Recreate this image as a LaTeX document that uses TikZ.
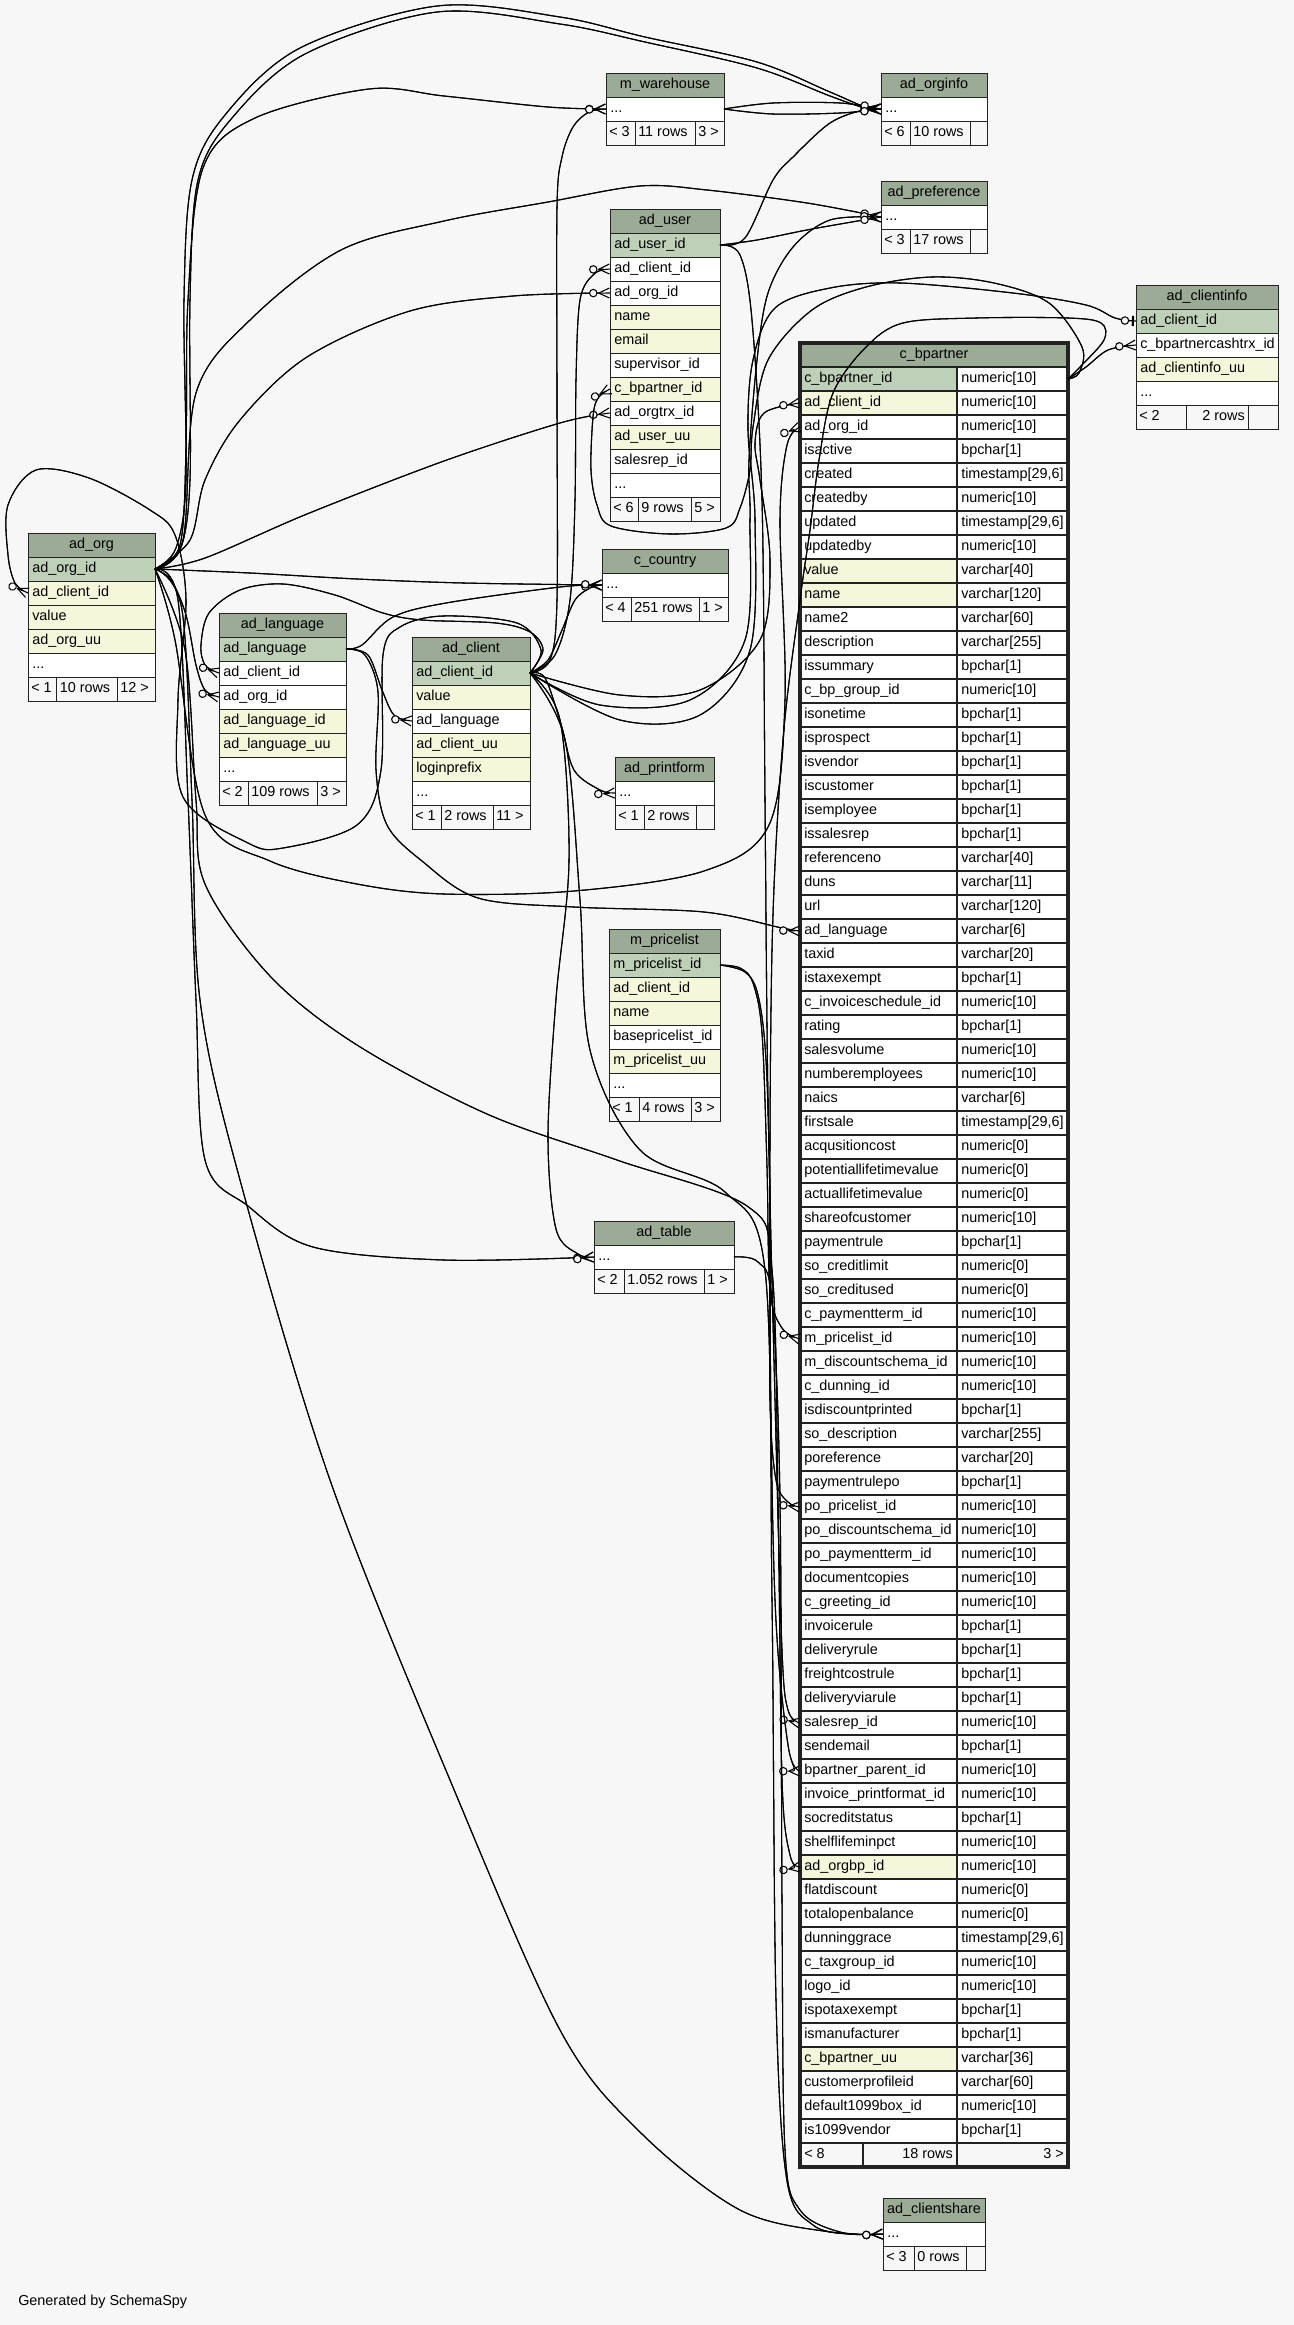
\documentclass[tikz,border=0pt]{standalone}
\usepackage{fontspec}
\setmainfont{Liberation Sans}
\usetikzlibrary{arrows.meta}
\definecolor{bgcol}{HTML}{F7F7F7}
\definecolor{hdrcol}{HTML}{9BAB96}
\definecolor{pkcol}{HTML}{BED1B8}
\definecolor{idxcol}{HTML}{F4F7DA}
\definecolor{linecol}{HTML}{222222}
\tikzset{
  txt/.style={inner sep=0pt, font=\fontsize{10.8}{12}\selectfont, text=black, text height=7.8pt, text depth=2.2pt},
  cellline/.style={draw=linecol, line width=0.75pt},
  bpcell/.style={draw=linecol, line width=1.2pt},
  rel/.style={draw=black, line width=0.8pt},
  crowfoot/.style={preaction={draw=black, line width=0.8pt, arrows=-},
    -{Circle[length=6.4pt, fill=bgcol, sep=0pt] Straight Barb[reversed, length=8pt, width=7.5pt]}},
  onezero/.style={preaction={draw=black, line width=0.8pt, arrows=-},
    -{Circle[length=6.4pt, fill=bgcol, sep=2pt] Bar[width=7.5pt, line width=1.6pt, sep=1.5pt]}}
}
\newcommand\Hd[5]{%
  \draw[cellline, fill=hdrcol] (#2,#4) rectangle (#3,#4+24);
  \node[txt] (#1) at ({(#2+#3)/2},#4+12) {#5};}
\newcommand\Cl[6]{%
  \draw[cellline, fill=#5] (#2,#4) rectangle (#3,#4+24);
  \node[txt, anchor=west] (#1) at (#2+4,#4+12) {#6};}
\newcommand\Ft[9]{%
  \draw[cellline, fill=bgcol] (#2,#6) rectangle (#3,#6+24) (#3,#6) rectangle (#4,#6+24) (#4,#6) rectangle (#5,#6+24);
  \node[txt, anchor=west] (#1a) at (#2+3,#6+12) {#7};
  \node[txt, anchor=west] (#1b) at (#3+3,#6+12) {#8};
  \node[txt, anchor=west] (#1c) at (#4+3,#6+12) {#9};}
\newcommand\Bp[4]{%
  \draw[bpcell, fill=#4] (800,343+24*#1) rectangle (957,367+24*#1);
  \draw[bpcell, fill=white] (957,343+24*#1) rectangle (1068,367+24*#1);
  \node[txt, anchor=west] (bpn#1) at (804,355+24*#1) {#2};
  \node[txt, anchor=west] (bpt#1) at (961,355+24*#1) {#3};}
\begin{document}
\begin{tikzpicture}[x=0.75pt,y=-0.75pt]
\useasboundingbox (0,0) rectangle (1294,2325);
\fill[bgcol] (0,0) rectangle (1294,2325);

% ---------- tables ----------
\Hd{wh}{606}{724}{73}{m\_warehouse}
\Cl{wh1}{606}{724}{97}{white}{...}
\Ft{whf}{606}{635}{695}{724}{121}{< 3}{11 rows}{3 >}
\Hd{oi}{881}{987}{73}{ad\_orginfo}
\Cl{oi1}{881}{987}{97}{white}{...}
\Ft{oif}{881}{910}{970}{987}{121}{< 6}{10 rows}{}
\Hd{pf}{881}{987}{181}{ad\_preference}
\Cl{pf1}{881}{987}{205}{white}{...}
\Ft{pff}{881}{910}{970}{987}{229}{< 3}{17 rows}{}
\Hd{us}{610}{720}{209}{ad\_user}
\Cl{us1}{610}{720}{233}{pkcol}{ad\_user\_id}
\Cl{us2}{610}{720}{257}{white}{ad\_client\_id}
\Cl{us3}{610}{720}{281}{white}{ad\_org\_id}
\Cl{us4}{610}{720}{305}{idxcol}{name}
\Cl{us5}{610}{720}{329}{idxcol}{email}
\Cl{us6}{610}{720}{353}{white}{supervisor\_id}
\Cl{us7}{610}{720}{377}{idxcol}{c\_bpartner\_id}
\Cl{us8}{610}{720}{401}{white}{ad\_orgtrx\_id}
\Cl{us9}{610}{720}{425}{idxcol}{ad\_user\_uu}
\Cl{us10}{610}{720}{449}{white}{salesrep\_id}
\Cl{us11}{610}{720}{473}{white}{...}
\Ft{usf}{610}{638}{691}{720}{497}{< 6}{9 rows}{5 >}
\Hd{ci}{1136}{1278}{285}{ad\_clientinfo}
\Cl{ci1}{1136}{1278}{309}{pkcol}{ad\_client\_id}
\Cl{ci2}{1136}{1278}{333}{white}{c\_bpartnercashtrx\_id}
\Cl{ci3}{1136}{1278}{357}{idxcol}{ad\_clientinfo\_uu}
\Cl{ci4}{1136}{1278}{381}{white}{...}
\draw[cellline, fill=bgcol] (1136,405) rectangle (1186,429) (1186,405) rectangle (1248,429) (1248,405) rectangle (1278,429);
\node[txt, anchor=west] (cifa) at (1139,417) {< 2};
\node[txt, anchor=east] (cifb) at (1245,417) {2 rows};
\Hd{og}{28}{155}{533}{ad\_org}
\Cl{og1}{28}{155}{557}{pkcol}{ad\_org\_id}
\Cl{og2}{28}{155}{581}{idxcol}{ad\_client\_id}
\Cl{og3}{28}{155}{605}{idxcol}{value}
\Cl{og4}{28}{155}{629}{idxcol}{ad\_org\_uu}
\Cl{og5}{28}{155}{653}{white}{...}
\Ft{ogf}{28}{56.5}{117}{155}{677}{< 1}{10 rows}{12 >}
\Hd{lg}{219}{346}{613}{ad\_language}
\Cl{lg1}{219}{346}{637}{pkcol}{ad\_language}
\Cl{lg2}{219}{346}{661}{white}{ad\_client\_id}
\Cl{lg3}{219}{346}{685}{white}{ad\_org\_id}
\Cl{lg4}{219}{346}{709}{idxcol}{ad\_language\_id}
\Cl{lg5}{219}{346}{733}{idxcol}{ad\_language\_uu}
\Cl{lg6}{219}{346}{757}{white}{...}
\Ft{lgf}{219}{248}{317}{346}{781}{< 2}{109 rows}{3 >}
\Hd{cl}{412}{530}{637}{ad\_client}
\Cl{cl1}{412}{530}{661}{pkcol}{ad\_client\_id}
\Cl{cl2}{412}{530}{685}{idxcol}{value}
\Cl{cl3}{412}{530}{709}{white}{ad\_language}
\Cl{cl4}{412}{530}{733}{idxcol}{ad\_client\_uu}
\Cl{cl5}{412}{530}{757}{idxcol}{loginprefix}
\Cl{cl6}{412}{530}{781}{white}{...}
\Ft{clf}{412}{441}{493}{530}{805}{< 1}{2 rows}{11 >}
\Hd{co}{602}{728}{549}{c\_country}
\Cl{co1}{602}{728}{573}{white}{...}
\Ft{cof}{602}{631}{699}{728}{597}{< 4}{251 rows}{1 >}
\Hd{pr}{615}{714}{757}{ad\_printform}
\Cl{pr1}{615}{714}{781}{white}{...}
\Ft{prf}{615}{644}{696}{714}{805}{< 1}{2 rows}{}
\Hd{pl}{609}{720}{929}{m\_pricelist}
\Cl{pl1}{609}{720}{953}{pkcol}{m\_pricelist\_id}
\Cl{pl2}{609}{720}{977}{idxcol}{ad\_client\_id}
\Cl{pl3}{609}{720}{1001}{idxcol}{name}
\Cl{pl4}{609}{720}{1025}{white}{basepricelist\_id}
\Cl{pl5}{609}{720}{1049}{idxcol}{m\_pricelist\_uu}
\Cl{pl6}{609}{720}{1073}{white}{...}
\Ft{plf}{609}{639}{691}{720}{1097}{< 1}{4 rows}{3 >}
\Hd{tb}{594}{734}{1221}{ad\_table}
\Cl{tb1}{594}{734}{1245}{white}{...}
\Ft{tbf}{594}{624}{704}{734}{1269}{< 2}{1.052 rows}{1 >}
\Hd{cs}{883}{985}{2198}{ad\_clientshare}
\Cl{cs1}{883}{985}{2222}{white}{...}
\Ft{csf}{883}{914}{966}{985}{2246}{< 3}{0 rows}{}

% c_bpartner
\draw[bpcell, fill=hdrcol] (800,343) rectangle (1068,367);
\node[txt] (bp) at (934,355) {c\_bpartner};
\Bp{1}{c\_bpartner\_id}{numeric[10]}{pkcol}
\Bp{2}{ad\_client\_id}{numeric[10]}{idxcol}
\Bp{3}{ad\_org\_id}{numeric[10]}{white}
\Bp{4}{isactive}{bpchar[1]}{white}
\Bp{5}{created}{timestamp[29,6]}{white}
\Bp{6}{createdby}{numeric[10]}{white}
\Bp{7}{updated}{timestamp[29,6]}{white}
\Bp{8}{updatedby}{numeric[10]}{white}
\Bp{9}{value}{varchar[40]}{idxcol}
\Bp{10}{name}{varchar[120]}{idxcol}
\Bp{11}{name2}{varchar[60]}{white}
\Bp{12}{description}{varchar[255]}{white}
\Bp{13}{issummary}{bpchar[1]}{white}
\Bp{14}{c\_bp\_group\_id}{numeric[10]}{white}
\Bp{15}{isonetime}{bpchar[1]}{white}
\Bp{16}{isprospect}{bpchar[1]}{white}
\Bp{17}{isvendor}{bpchar[1]}{white}
\Bp{18}{iscustomer}{bpchar[1]}{white}
\Bp{19}{isemployee}{bpchar[1]}{white}
\Bp{20}{issalesrep}{bpchar[1]}{white}
\Bp{21}{referenceno}{varchar[40]}{white}
\Bp{22}{duns}{varchar[11]}{white}
\Bp{23}{url}{varchar[120]}{white}
\Bp{24}{ad\_language}{varchar[6]}{white}
\Bp{25}{taxid}{varchar[20]}{white}
\Bp{26}{istaxexempt}{bpchar[1]}{white}
\Bp{27}{c\_invoiceschedule\_id}{numeric[10]}{white}
\Bp{28}{rating}{bpchar[1]}{white}
\Bp{29}{salesvolume}{numeric[10]}{white}
\Bp{30}{numberemployees}{numeric[10]}{white}
\Bp{31}{naics}{varchar[6]}{white}
\Bp{32}{firstsale}{timestamp[29,6]}{white}
\Bp{33}{acqusitioncost}{numeric[0]}{white}
\Bp{34}{potentiallifetimevalue}{numeric[0]}{white}
\Bp{35}{actuallifetimevalue}{numeric[0]}{white}
\Bp{36}{shareofcustomer}{numeric[10]}{white}
\Bp{37}{paymentrule}{bpchar[1]}{white}
\Bp{38}{so\_creditlimit}{numeric[0]}{white}
\Bp{39}{so\_creditused}{numeric[0]}{white}
\Bp{40}{c\_paymentterm\_id}{numeric[10]}{white}
\Bp{41}{m\_pricelist\_id}{numeric[10]}{white}
\Bp{42}{m\_discountschema\_id}{numeric[10]}{white}
\Bp{43}{c\_dunning\_id}{numeric[10]}{white}
\Bp{44}{isdiscountprinted}{bpchar[1]}{white}
\Bp{45}{so\_description}{varchar[255]}{white}
\Bp{46}{poreference}{varchar[20]}{white}
\Bp{47}{paymentrulepo}{bpchar[1]}{white}
\Bp{48}{po\_pricelist\_id}{numeric[10]}{white}
\Bp{49}{po\_discountschema\_id}{numeric[10]}{white}
\Bp{50}{po\_paymentterm\_id}{numeric[10]}{white}
\Bp{51}{documentcopies}{numeric[10]}{white}
\Bp{52}{c\_greeting\_id}{numeric[10]}{white}
\Bp{53}{invoicerule}{bpchar[1]}{white}
\Bp{54}{deliveryrule}{bpchar[1]}{white}
\Bp{55}{freightcostrule}{bpchar[1]}{white}
\Bp{56}{deliveryviarule}{bpchar[1]}{white}
\Bp{57}{salesrep\_id}{numeric[10]}{white}
\Bp{58}{sendemail}{bpchar[1]}{white}
\Bp{59}{bpartner\_parent\_id}{numeric[10]}{white}
\Bp{60}{invoice\_printformat\_id}{numeric[10]}{white}
\Bp{61}{socreditstatus}{bpchar[1]}{white}
\Bp{62}{shelflifeminpct}{numeric[10]}{white}
\Bp{63}{ad\_orgbp\_id}{numeric[10]}{idxcol}
\Bp{64}{flatdiscount}{numeric[0]}{white}
\Bp{65}{totalopenbalance}{numeric[0]}{white}
\Bp{66}{dunninggrace}{timestamp[29,6]}{white}
\Bp{67}{c\_taxgroup\_id}{numeric[10]}{white}
\Bp{68}{logo\_id}{numeric[10]}{white}
\Bp{69}{ispotaxexempt}{bpchar[1]}{white}
\Bp{70}{ismanufacturer}{bpchar[1]}{white}
\Bp{71}{c\_bpartner\_uu}{varchar[36]}{idxcol}
\Bp{72}{customerprofileid}{varchar[60]}{white}
\Bp{73}{default1099box\_id}{numeric[10]}{white}
\Bp{74}{is1099vendor}{bpchar[1]}{white}
\draw[bpcell, fill=bgcol] (800,2143) rectangle (863,2167) (863,2143) rectangle (957,2167) (957,2143) rectangle (1068,2167);
\node[txt, anchor=west] (bpfa) at (804,2155) {< 8};
\node[txt, anchor=east] (bpfb) at (953,2155) {18 rows};
\node[txt, anchor=east] (bpfc) at (1064,2155) {3 >};
\draw[linecol, line width=2.4pt] (800,343) rectangle (1068,2167);

\node[txt, anchor=west] (gen) at (18,2302) {Generated by SchemaSpy};

% ---------- ports ----------
\coordinate (orgPK) at (155,569);
\coordinate (clientPK) at (530,673);
\coordinate (langPK) at (346,649);
\coordinate (userPK) at (720,245);
\coordinate (bpPK) at (1068,379);
\coordinate (pricePK) at (720,965);
\coordinate (whR) at (724,109);
\coordinate (tableR) at (734,1257);
\coordinate (orgC) at (28,593);
\coordinate (langC) at (219,673);
\coordinate (langO) at (219,697);
\coordinate (clientL) at (412,721);
\coordinate (whL) at (606,109);
\coordinate (oinfoL) at (881,109);
\coordinate (prefL) at (881,217);
\coordinate (userC) at (610,269);
\coordinate (userO) at (610,293);
\coordinate (userB) at (610,389);
\coordinate (userT) at (610,413);
\coordinate (ctryL) at (602,585);
\coordinate (pfL) at (615,793);
\coordinate (tableL) at (594,1257);
\coordinate (cinfoC) at (1136,321);
\coordinate (cinfoB) at (1136,345);
\coordinate (bpC) at (800,403);
\coordinate (bpO) at (800,427);
\coordinate (bpL) at (800,931);
\coordinate (bpM) at (800,1339);
\coordinate (bpP) at (800,1507);
\coordinate (bpS) at (800,1723);
\coordinate (bpB) at (800,1771);
\coordinate (bpG) at (800,1867);
\coordinate (shareL) at (883,2234);

% ---------- relationships ----------
\draw[rel, crowfoot] plot[smooth, tension=0.55] coordinates {(orgPK) (176,548) (186,480) (184,300) (192,180) (225,115) (300,48) (437,6) (560,17) (645,37) (757,62) (830,92) (865,107) (oinfoL)};
\draw[rel, crowfoot] plot[smooth, tension=0.55] coordinates {(orgPK) (180,550) (190,480) (190,300) (198,180) (232,118) (305,54) (437,12) (560,24) (645,42) (757,68) (830,96) (865,108) (oinfoL)};
\draw[rel, crowfoot] plot[smooth, tension=0.55] coordinates {(orgPK) (180,545) (186,450) (188,300) (203,168) (255,118) (369,89) (444,96) (548,107) (whL)};
\draw[rel, crowfoot] plot[smooth, tension=0.55] coordinates {(orgPK) (183,540) (196,393) (250,320) (341,250) (444,221) (548,202) (640,186) (707,190) (807,203) (prefL)};
\draw[rel, crowfoot] plot[smooth, tension=0.55] coordinates {(orgPK) (190,540) (205,480) (240,420) (307,357) (410,311) (513,296) (userO)};
\draw[rel, crowfoot] plot[smooth, tension=0.55] coordinates {(orgPK) (205,558) (307,514) (444,461) (560,423) (userT)};
\draw[rel, crowfoot] plot[smooth, tension=0.55] coordinates {(orgPK) (171,580) (186,615) (196,665) (205,690) (langO)};
\draw[rel, crowfoot] plot[smooth, tension=0.55] coordinates {(orgPK) (250,573) (357,579) (464,583) (ctryL)};
\draw[rel, crowfoot] plot[smooth, tension=0.55] coordinates {(orgPK) (178,600) (188,800) (196,1000) (205,1160) (248,1206) (313,1247) (444,1260) (tableL)};
\draw[rel, crowfoot] plot[smooth, tension=0.55] coordinates {(orgPK) (182,610) (192,800) (200,1000) (240,1180) (330,1480) (450,1780) (560,2030) (640,2132) (740,2210) (830,2232) (shareL)};
\draw[rel, crowfoot] plot[smooth, tension=0.55] coordinates {(orgPK) (175,640) (205,815) (270,861) (357,884) (444,894) (574,891) (704,871) (769,825) (785,700) (780,520) (787,445) (bpO)};
\draw[rel, crowfoot] plot[smooth, tension=0.55] coordinates {(orgPK) (185,650) (196,800) (205,884) (270,976) (357,1045) (487,1114) (617,1160) (747,1206) (772,1270) (778,1500) (782,1780) (790,1855) (bpG)};
\draw[rel, crowfoot] plot[smooth, tension=0.55] coordinates {(clientPK) (541,650) (517,623) (443,616) (400,627) (383,655) (381,770) (357,825) (283,848) (248,843) (183,797) (178,700) (186,600) (175,535) (150,510) (89,478) (36,470) (8,505) (8,555) (15,583) (orgC)};
\draw[rel, crowfoot] plot[smooth, tension=0.55] coordinates {(clientPK) (543,650) (530,632) (496,623) (422,620) (383,613) (335,595) (283,584) (240,590) (209,613) (201,645) (205,665) (langC)};
\draw[rel, crowfoot] plot[smooth, tension=0.55] coordinates {(clientPK) (555,655) (570,600) (575,500) (576,380) (580,300) (594,274) (userC)};
\draw[rel, crowfoot] plot[smooth, tension=0.55] coordinates {(clientPK) (550,660) (557,600) (557,400) (557,207) (562,157) (573,127) (589,112) (whL)};
\draw[rel, crowfoot] plot[smooth, tension=0.55] coordinates {(clientPK) (600,705) (690,700) (745,640) (750,520) (749,460) (757,360) (768,293) (793,247) (830,220) (prefL)};
\draw[rel, crowfoot] plot[smooth, tension=0.55] coordinates {(clientPK) (548,660) (562,630) (575,600) (590,588) (ctryL)};
\draw[rel, crowfoot] plot[smooth, tension=0.55] coordinates {(clientPK) (545,678) (561,724) (574,770) (600,790) (pfL)};
\draw[rel, crowfoot] plot[smooth, tension=0.55] coordinates {(clientPK) (560,720) (569,861) (556,999) (548,1137) (556,1229) (578,1254) (tableL)};
\draw[rel, onezero] plot[smooth, tension=0.55] coordinates {(clientPK) (620,720) (700,715) (750,650) (755,520) (748,430) (753,360) (775,308) (830,288) (900,283) (1013,293) (1086,305) (1115,318) (cinfoC)};
\draw[rel, crowfoot] plot[smooth, tension=0.55] coordinates {(clientPK) (620,695) (700,690) (760,640) (770,560) (760,480) (755,443) (764,413) (bpC)};
\draw[rel, crowfoot] plot[smooth, tension=0.55] coordinates {(clientPK) (565,740) (580,900) (590,1050) (640,1150) (725,1192) (765,1270) (772,1600) (776,2000) (787,2181) (813,2225) (850,2234) (shareL)};
\draw[rel, crowfoot] plot[smooth, tension=0.55] coordinates {(langPK) (368,655) (382,690) (394,715) (clientL)};
\draw[rel, crowfoot] plot[smooth, tension=0.55] coordinates {(langPK) (362,645) (393,617) (446,603) (560,587) (ctryL)};
\draw[rel, crowfoot] plot[smooth, tension=0.55] coordinates {(langPK) (365,655) (378,692) (376,770) (387,825) (422,861) (478,898) (574,907) (704,912) (782,928) (bpL)};
\draw[rel, crowfoot] plot[smooth, tension=0.55] coordinates {(userPK) (745,238) (773,180) (793,157) (830,123) (863,110) (oinfoL)};
\draw[rel, crowfoot] plot[smooth, tension=0.55] coordinates {(userPK) (757,240) (812,229) (prefL)};
\draw[rel, crowfoot] plot[smooth, tension=0.55] coordinates {(userPK) (740,255) (752,320) (762,500) (765,800) (768,1100) (775,1400) (782,1650) (788,1710) (bpS)};
\draw[rel, crowfoot] plot[smooth, tension=0.55] coordinates {(bpPK) (1086,367) (1108,350) (cinfoB)};
\draw[rel, crowfoot] plot[smooth, tension=0.55] coordinates {(bpPK) (1080,367) (1104,340) (1101,323) (1068,318) (976,318) (903,323) (866,347) (833,393) (819,460) (810,530) (800,600) (783,740) (772,950) (770,1300) (775,1600) (788,1745) (bpB)};
\draw[rel, crowfoot] plot[smooth, tension=0.55] coordinates {(bpPK) (1079,373) (1082,347) (1049,303) (994,283) (932,277) (866,287) (812,310) (768,360) (753,427) (750,470) (740,508) (726,528) (670,534) (611,526) (597,505) (591,470) (593,417) (598,398) (userB)};
\draw[rel, crowfoot] plot[smooth, tension=0.55] coordinates {(pricePK) (740,968) (753,983) (762,1033) (767,1167) (770,1290) (782,1328) (bpM)};
\draw[rel, crowfoot] plot[smooth, tension=0.55] coordinates {(pricePK) (745,972) (758,995) (766,1060) (770,1200) (770,1400) (776,1480) (788,1502) (bpP)};
\draw[rel, crowfoot] plot[smooth, tension=0.55] coordinates {(whR) (773,103) (840,103) (oinfoL)};
\draw[rel, crowfoot] plot[smooth, tension=0.55] coordinates {(whR) (773,114) (840,113) (oinfoL)};
\draw[rel, crowfoot] plot[smooth, tension=0.55] coordinates {(tableR) (758,1262) (772,1300) (780,1500) (782,1900) (785,2150) (800,2210) (840,2232) (shareL)};
\end{tikzpicture}
\end{document}
